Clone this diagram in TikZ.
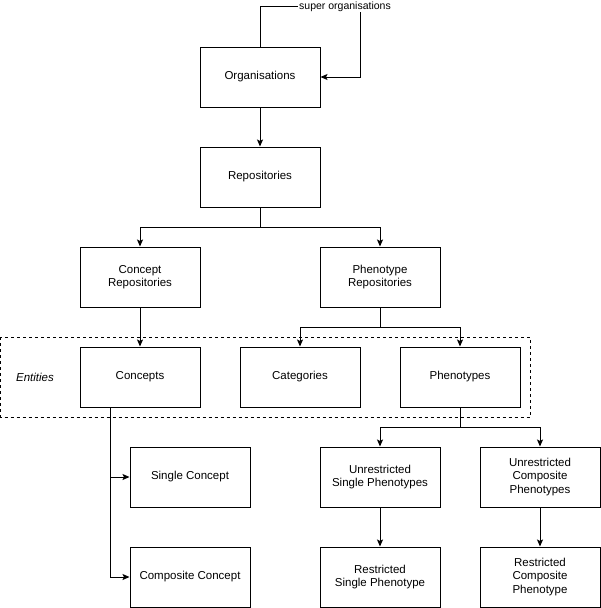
\documentclass[tikz,border=0pt]{standalone}
\usepackage{fontspec}
\setmainfont{Liberation Sans}
\usetikzlibrary{arrows.meta}
\begin{document}
\begin{tikzpicture}[x=1pt,y=-1pt,
  box/.style={draw,line width=1pt,minimum width=120pt,minimum height=60pt,inner sep=0pt,align=center,font=\fontsize{11.5}{13.5}\selectfont},
  arr/.style={line width=1pt,-{Stealth[length=7pt,width=6pt,inset=1.5pt]}},
  conn/.style={line width=1pt}]
\useasboundingbox (0,0) rectangle (601,608);
\draw[line width=1pt,dash pattern=on 3pt off 3pt] (0.5,337) rectangle (530,417);
\node[font=\itshape\fontsize{11.5}{13.5}\selectfont] (ent) at (35,377) {Entities};
\node[box] (org) at (260,77) {Organisations};
\node[box] (rep) at (260,177) {Repositories};
\node[box] (crep) at (140,277) {Concept\\Repositories};
\node[box] (prep) at (380,277) {Phenotype\\Repositories};
\node[box] (conc) at (140,377) {Concepts};
\node[box] (cat) at (300,377) {Categories};
\node[box] (phen) at (460,377) {Phenotypes};
\node[box] (sc) at (190,477) {Single Concept};
\node[box] (cc) at (190,577) {Composite Concept};
\node[box] (usp) at (380,477) {Unrestricted\\Single Phenotypes};
\node[box] (ucp) at (540,477) {Unrestricted\\Composite\\Phenotypes};
\node[box] (rsp) at (380,577) {Restricted\\Single Phenotype};
\node[box] (rcp) at (540,577) {Restricted\\Composite\\Phenotype};
% super organisations loop
\draw[arr] (org.north) -- ++(0,-40) -- node[pos=0.85,fill=white,inner sep=1pt,font=\fontsize{10.5}{12}\selectfont] (sup) {super organisations} ++(100,0) |- (org.east);
\draw[arr] (org.south) -- (rep.north);
\draw[arr] (rep.south) -- ++(0,20) -| (crep.north);
\draw[arr] (rep.south) -- ++(0,20) -| (prep.north);
\draw[arr] (crep.south) -- (conc.north);
\draw[arr] (prep.south) -- ++(0,20) -| (cat.north);
\draw[arr] (prep.south) -- ++(0,20) -| (phen.north);
\draw[arr] ([xshift=-30pt]conc.south) |- (sc.west);
\draw[arr] ([xshift=-30pt]conc.south) |- (cc.west);
\draw[arr] (phen.south) -- ++(0,20) -| (usp.north);
\draw[arr] (phen.south) -- ++(0,20) -| (ucp.north);
\draw[arr] (usp.south) -- (rsp.north);
\draw[arr] (ucp.south) -- (rcp.north);
\end{tikzpicture}
\end{document}
